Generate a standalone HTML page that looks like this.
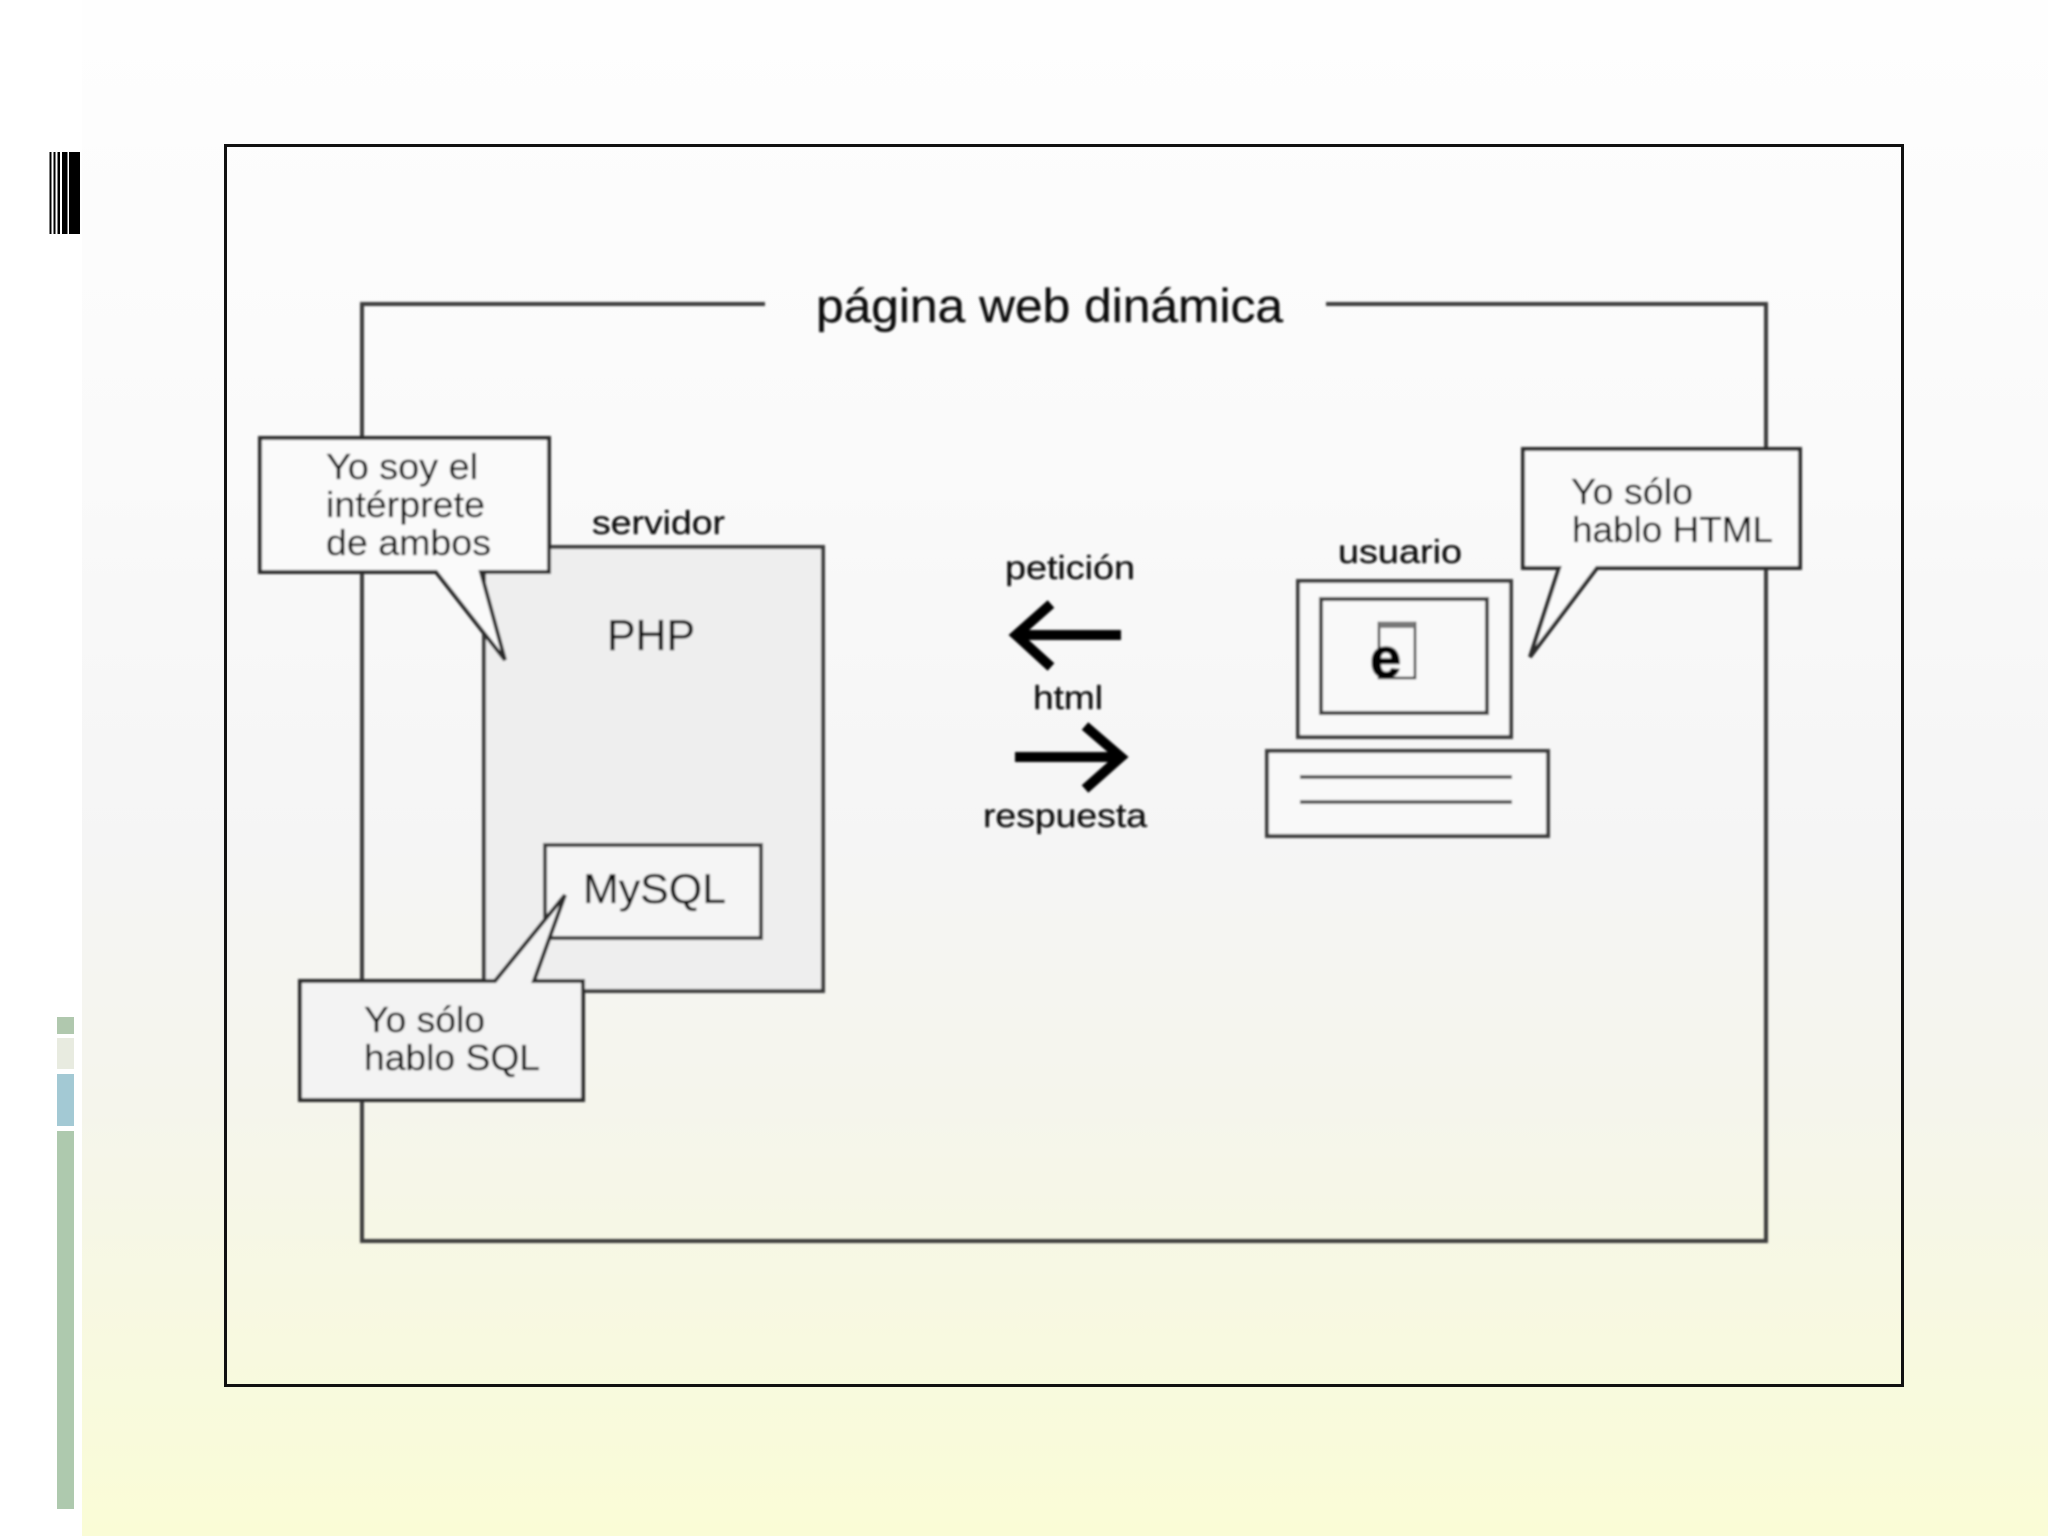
<!DOCTYPE html>
<html lang="es">
<head>
<meta charset="utf-8">
<title>página web dinámica</title>
<style>
html,body{margin:0;padding:0;width:2048px;height:1536px;overflow:hidden;background:#fff}
svg{display:block;position:absolute;left:0;top:0}
text{font-family:"Liberation Sans",sans-serif;fill:#111;stroke:#111;stroke-width:0.3}
</style>
</head>
<body>
<svg width="2048" height="1536" viewBox="0 0 2048 1536" xmlns="http://www.w3.org/2000/svg">
<defs>
<linearGradient id="bg" x1="0" y1="0" x2="0" y2="1">
<stop offset="0" stop-color="#fefefe"/>
<stop offset="0.3" stop-color="#fafafa"/>
<stop offset="0.55" stop-color="#f5f5f5"/>
<stop offset="0.72" stop-color="#f5f5ec"/>
<stop offset="1" stop-color="#fafcd6"/>
</linearGradient>
<filter id="b" filterUnits="userSpaceOnUse" x="0" y="0" width="2048" height="1536"><feGaussianBlur stdDeviation="1"/></filter>
</defs>
<rect x="0" y="0" width="2048" height="1536" fill="#fff"/>
<rect x="82" y="0" width="1966" height="1536" fill="url(#bg)"/>

<!-- left decoration -->
<g fill="#000">
<rect x="49.5" y="152" width="2" height="82"/>
<rect x="53.5" y="152" width="2" height="82"/>
<rect x="57.5" y="152" width="2.5" height="82"/>
<rect x="62" y="152" width="5.5" height="82"/>
<rect x="69" y="152" width="11" height="82"/>
</g>
<rect x="57" y="1017" width="17" height="17" fill="#b0c8ae"/>
<rect x="57" y="1038" width="17" height="31" fill="#e8ebe0"/>
<rect x="57" y="1074" width="17" height="52" fill="#a3c9d4"/>
<rect x="57" y="1131" width="17" height="378" fill="#aec9ae"/>

<!-- outer frame -->
<rect x="225.5" y="145.5" width="1677" height="1240" fill="none" stroke="#111" stroke-width="3"/>

<g filter="url(#b)">
<!-- inner frame -->
<path d="M765 304H362V1241H1766V304H1326" fill="none" stroke="#3a3a3a" stroke-width="4"/>
<text x="816" y="322" font-size="47" textLength="467" lengthAdjust="spacingAndGlyphs">página web dinámica</text>

<!-- server -->
<rect x="484" y="547" width="339" height="444" fill="#eeeeee" stroke="#3a3a3a" stroke-width="4"/>
<text x="592" y="534" font-size="33" textLength="133" lengthAdjust="spacingAndGlyphs">servidor</text>
<text x="607" y="650" font-size="44" textLength="88" lengthAdjust="spacingAndGlyphs">PHP</text>

<!-- MySQL -->
<rect x="545" y="845" width="216" height="93" fill="#f5f5f5" stroke="#3a3a3a" stroke-width="4"/>
<text x="583" y="903" font-size="42" textLength="143" lengthAdjust="spacingAndGlyphs">MySQL</text>

<!-- callout PHP -->
<path d="M260 438H549V572H481L505 660L436 572H260Z" fill="#fafafa" stroke="#2a2a2a" stroke-width="4"/>
<text x="326" y="479" font-size="36" textLength="152" lengthAdjust="spacingAndGlyphs">Yo soy el</text>
<text x="326" y="517" font-size="36" textLength="159" lengthAdjust="spacingAndGlyphs">intérprete</text>
<text x="326" y="555" font-size="36" textLength="165" lengthAdjust="spacingAndGlyphs">de ambos</text>

<!-- callout SQL -->
<path d="M300 981H495L565 895L534 981H583V1100H300Z" fill="#f3f3f3" stroke="#2a2a2a" stroke-width="4"/>
<text x="364" y="1032" font-size="36" textLength="121" lengthAdjust="spacingAndGlyphs">Yo sólo</text>
<text x="364" y="1070" font-size="36" textLength="176" lengthAdjust="spacingAndGlyphs">hablo SQL</text>

<!-- arrows -->
<text x="1005" y="579" font-size="33" textLength="130" lengthAdjust="spacingAndGlyphs">petición</text>
<path d="M1121 635H1016M1051 604L1016 635L1051 667" fill="none" stroke="#000" stroke-width="10"/>
<text x="1033" y="709" font-size="33" textLength="70" lengthAdjust="spacingAndGlyphs">html</text>
<path d="M1015 757H1121M1085 726L1121 757L1085 789" fill="none" stroke="#000" stroke-width="10"/>
<text x="983" y="827" font-size="33" textLength="164" lengthAdjust="spacingAndGlyphs">respuesta</text>

<!-- computer -->
<text x="1338" y="563" font-size="33" textLength="124" lengthAdjust="spacingAndGlyphs">usuario</text>
<rect x="1298" y="581" width="213" height="156" fill="#f9f9f9" stroke="#3a3a3a" stroke-width="4"/>
<rect x="1321" y="599" width="166" height="114" fill="#f9f9f9" stroke="#3a3a3a" stroke-width="4"/>
<rect x="1379" y="623" width="36" height="55" fill="#f9f9f9" stroke="#333" stroke-width="2.5"/>
<rect x="1379" y="622" width="36" height="6" fill="#777"/>
<text x="1370" y="677" font-size="56" font-weight="bold" style="fill:#000;stroke:#000;stroke-width:1.5">e</text>
<rect x="1267" y="751" width="281" height="85" fill="#f9f9f9" stroke="#3a3a3a" stroke-width="4"/>
<path d="M1300 777H1512M1300 802H1512" stroke="#444" stroke-width="3.5" fill="none"/>

<!-- callout HTML -->
<path d="M1523 449H1800V568H1597L1530 657L1559 568H1523Z" fill="#fafafa" stroke="#2a2a2a" stroke-width="4"/>
<text x="1571" y="504" font-size="36" textLength="122" lengthAdjust="spacingAndGlyphs">Yo sólo</text>
<text x="1572" y="542" font-size="36" textLength="201" lengthAdjust="spacingAndGlyphs">hablo HTML</text>
</g>
</svg>
</body>
</html>
